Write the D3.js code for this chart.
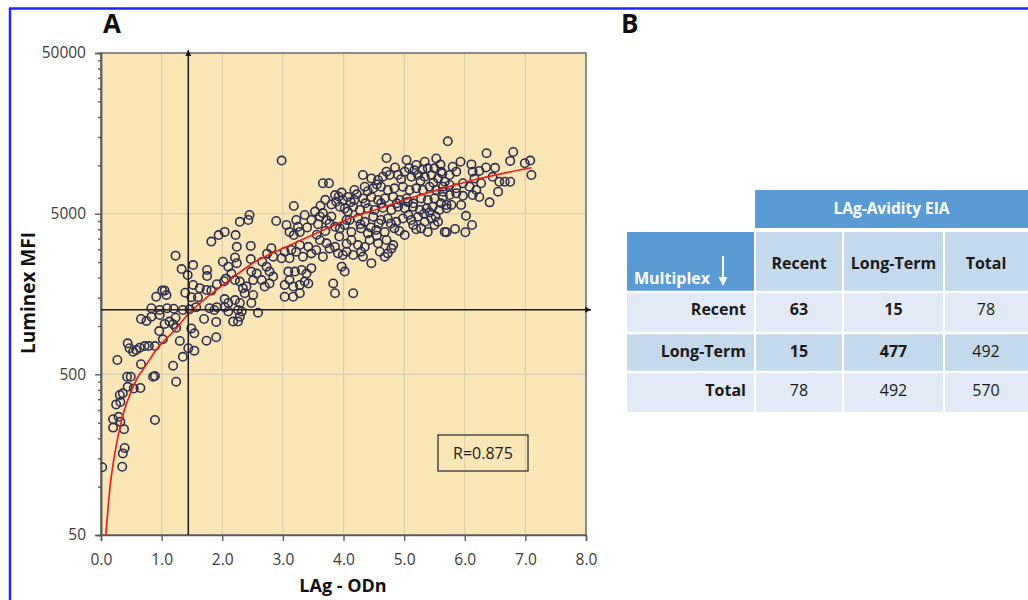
<!DOCTYPE html>
<html><head><meta charset="utf-8">
<script src="https://cdn.jsdelivr.net/npm/d3@7"></script>
<style>body{margin:0;background:#fff}svg{display:block}</style>
</head><body>
<svg id="c" width="1028" height="600"></svg>
<script>
// ---------- data ----------
const xTicks = [0,1,2,3,4,5,6,7,8];
const yTicks = [50,500,5000,50000];
const cutoffOdn = 1.44;
const cutoffMfi = 1260;
const rLabel = "R=0.875";
const xTitle = "LAg - ODn";
const yTitle = "Luminex MFI";
const fitCurve = [[0.08,50],[0.15,100],[0.23,162],[0.34,260],[0.51,400],[0.61,483],[0.69,532],[0.91,709],[1.22,944],[1.44,1187],[1.76,1521],[2.06,1851],[2.51,2466],[3.06,3114],[3.61,3862],[4.11,4678],[4.57,5350],[5.12,6280],[5.76,7400],[6.14,8100],[6.69,9000],[7.10,9650]];
const scatter = [
[0.02,132],[0.35,133],[0.39,174],[0.36,161],[0.20,233],[0.38,228],[0.20,263],[0.29,272],[0.32,253],[0.89,260],
[0.25,325],[0.32,336],[0.36,381],[0.31,372],[0.44,418],[0.49,483],[0.43,483],[0.54,408],[0.65,411],[0.86,483],
[0.89,488],[1.24,450],[1.19,566],[0.66,578],[0.27,614],[0.44,780],[0.47,727],[0.53,692],[0.58,709],[0.64,733],
[0.72,750],[0.79,750],[0.89,750],[1.02,826],[1.30,807],[1.35,643],[1.44,727],[1.54,702],[1.74,810],[1.90,851],
[0.66,1105],[0.96,930],[1.49,965],[1.54,900],[1.70,1105],[1.90,1060],[0.75,1075],[0.83,1140],[0.97,1170],[1.05,1030],
[1.13,1065],[1.23,1125],[1.19,1025],[1.24,975],[0.83,1290],[0.97,1257],[1.09,1290],[1.20,1280],[1.35,1257],[1.46,1270],
[1.57,1310],[1.79,1290],[1.87,1257],[1.91,1310],[2.04,1310],[0.91,1520],[1.05,1660],[1.08,1560],[1.01,1660],[1.39,1610],
[1.52,1800],[1.63,1720],[1.74,1675],[1.82,1660],[1.49,1510],[1.60,1510],[1.91,1820],[2.03,1900],[2.04,1470],[1.23,2740],
[1.33,2260],[1.43,2075],[1.52,2395],[1.75,2230],[1.75,2045],[2.01,2510],[1.82,3350],[1.94,3680],[2.04,3850],[2.06,1970],
[2.98,10700],[3.66,7730],[3.76,7730],[3.86,6530],[3.97,6760],[3.88,5930],[3.99,6080],[3.94,5520],[4.02,5390],[4.07,5150],
[3.18,5580],[2.29,4450],[2.45,4905],[2.43,4565],[2.89,4500],[3.06,4250],[3.11,3850],[3.22,4565],[3.25,4140],[3.18,3680],
[3.28,3850],[3.36,4905],[3.47,4565],[3.53,5150],[3.61,4800],[3.66,5040],[3.72,4565],[3.77,4350],[3.86,4140],[3.94,4050],
[4.02,4250],[4.05,4565],[2.22,3680],[2.24,3110],[2.47,3150],[2.21,2670],[2.24,2460],[2.47,2610],[2.48,2180],[2.66,2510],
[2.74,2820],[2.81,3050],[2.84,2700],[2.73,2340],[2.78,2180],[2.98,2640],[3.11,2640],[3.03,2900],[3.14,2970],[3.22,2900],
[3.28,3190],[3.33,2700],[3.42,3110],[3.47,2830],[3.55,2970],[3.61,3430],[3.66,2700],[3.72,3270],[3.77,3030],[3.86,3110],
[3.91,2830],[3.99,2765],[4.05,2900],[2.10,2340],[2.15,2120],[2.21,1930],[2.29,1890],[2.34,1720],[2.40,1760],[2.51,1930],
[2.57,2120],[2.65,1930],[2.70,1760],[2.78,1840],[2.84,2030],[3.03,1800],[3.11,1930],[3.17,1760],[3.28,1800],[3.36,1890],
[3.42,1840],[3.03,1520],[3.17,1520],[3.28,1600],[3.09,2180],[3.20,2180],[3.31,2230],[3.39,2120],[3.47,2290],[3.83,1840],
[3.86,1600],[2.10,1390],[2.21,1450],[2.26,1257],[2.29,1390],[2.37,1600],[2.48,1390],[2.51,1560],[2.10,1230],[2.18,1065],
[2.26,1065],[2.29,1140],[2.32,1230],[2.59,1210],
[5.72,14100],[4.71,11100],[5.04,10790],[5.20,10040],[5.34,10530],[5.53,11030],[5.39,9580],[5.50,9580],[5.61,9130],
[4.32,8700],[4.46,8290],[4.57,8100],[4.71,9130],[4.76,8700],[4.90,8700],[5.01,9130],[5.12,8480],[5.23,8700],[5.34,8480],[5.45,8700],[5.56,8290],[5.67,7900],
[4.18,7020],[4.35,7360],[4.49,7190],[4.62,7360],[4.73,7020],[4.84,7190],[4.98,7360],[5.09,7020],[5.20,7190],[5.31,7020],[5.42,7360],[5.53,7020],[5.64,6850],
[4.07,6350],[4.18,6080],[4.32,6220],[4.46,6350],[4.57,6080],[4.68,6220],[4.82,6350],[4.93,6080],[5.04,6220],[5.15,5800],[5.28,6220],[5.39,6080],[5.50,6220],[5.61,5800],[5.70,5660],
[4.16,5520],[4.27,5270],[4.40,5400],[4.51,5270],[4.65,5440],[4.79,5270],[4.90,5520],[5.01,5400],[5.15,5520],[5.26,5270],[5.37,5400],[5.47,5520],[5.58,5270],
[4.10,4565],[4.24,4670],[4.35,4450],[4.49,4790],[4.62,4565],[4.73,4670],[4.87,4450],[4.98,4670],[5.12,4565],[5.23,4790],[5.34,4450],[5.45,4670],[5.56,4450],
[4.13,3850],[4.29,4050],[4.40,3770],[4.54,3955],[4.68,3850],[4.84,4050],[5.01,3680],[5.15,4250],[5.28,4050],[5.39,3850],[5.50,4250],[5.67,3850],
[4.13,3430],[4.24,3190],[4.43,3430],[4.57,3270],[4.71,3430],[4.82,3190],
[4.16,2765],[4.29,2900],[4.60,2900],[4.73,2830],[4.68,2700],[4.46,2460],[4.02,2180],[4.16,1600],[3.97,2340],[4.32,2700],[4.79,3030],
[6.36,11900],[6.80,12100],[6.75,10650],[6.99,10300],[7.08,10700],[7.10,8700],[5.93,10530],[6.11,10130],[6.24,9230],[6.35,9700],[6.50,9650],
[5.80,9800],[5.86,9130],[5.63,8900],[5.75,8700],[6.13,9130],[6.16,8290],[6.27,7730],[6.46,8480],[6.57,7900],[6.66,7900],[6.75,7900],
[5.64,7360],[5.75,7540],[5.86,7190],[5.97,7730],[6.08,7360],[6.19,7020],[6.55,6850],[6.41,5880],
[5.64,6350],[5.75,6530],[5.86,6700],[5.97,6460],[6.13,6530],[6.24,6350],[5.78,5660],[5.94,5660],[5.70,5400],
[6.02,4850],[6.12,4250],[5.70,3830],[5.84,4020],[6.01,3830],
[3.62,5600],[3.70,6100],[3.80,5700],[3.92,6400],[4.12,5900],[4.22,6600],[4.40,6900],[4.55,7600],[4.65,8500],[4.85,9700],
[4.95,8200],[5.08,9600],[5.17,9300],[5.27,8000],[5.30,9400],[5.48,7800],[5.60,10100],[4.28,4300],[4.45,4100],[4.58,4350],
[4.78,4350],[4.92,3900],[5.07,4900],[5.20,4000],[5.33,5000],[5.42,5100],[5.52,4800],[5.06,5900],[4.88,5800],[4.62,5800],
[4.36,5800],[3.80,4800],[3.58,4300],[3.40,4100],[3.56,3700],[3.70,3900],[3.93,3600],[4.05,3250],[4.35,3100],[4.55,3650]
];
const tableTitle = "LAg-Avidity EIA";
const cornerLabel = "Multiplex";
const colHeaders = ["Recent","Long-Term","Total"];
const rowHeaders = ["Recent","Long-Term","Total"];
const tableValues = [[63,15,78],[15,477,492],[78,492,570]];
const boldCells = [[true,true,false],[true,true,false],[false,false,false]];

// ---------- layout ----------
const svg = d3.select("#c");
const FONT = "'Open Sans', 'DejaVu Sans', sans-serif";
const L = 101, R = 586, T = 53, B = 535;
const x = d3.scaleLinear().domain([0,8]).range([L,R]);
const y = d3.scaleLog().domain([50,50000]).range([B,T]);

// frame
svg.append("line").attr("x1",9).attr("x2",1028).attr("y1",8.5).attr("y2",8.5).attr("stroke","#2222ff").attr("stroke-width",2.5);
svg.append("line").attr("x1",10).attr("x2",10).attr("y1",8).attr("y2",600).attr("stroke","#2222ff").attr("stroke-width",2.5);

// panel letters
svg.append("text").attr("x",103).attr("y",33).text("A").attr("font-family",FONT).attr("font-weight",700).attr("font-size",26).attr("fill","#111");
svg.append("text").attr("x",621).attr("y",33).text("B").attr("font-family",FONT).attr("font-weight",700).attr("font-size",26).attr("fill","#111");

// defs
const defs = svg.append("defs");
defs.append("marker").attr("id","arr").attr("viewBox","0 0 10 10").attr("refX",10).attr("refY",5)
  .attr("markerWidth",6).attr("markerHeight",7).attr("markerUnits","userSpaceOnUse").attr("orient","auto")
  .append("path").attr("d","M0,0 L10,5 L0,10 Z").attr("fill","#1a1a1a");
defs.append("clipPath").attr("id","clip").append("rect").attr("x",L).attr("y",T).attr("width",R-L).attr("height",B-T);

// plot background
svg.append("rect").attr("x",L).attr("y",T).attr("width",R-L).attr("height",B-T).attr("fill","#fbe6b8");

// gridlines
svg.append("g").selectAll("line").data(xTicks.slice(1,-1)).join("line")
  .attr("x1",d=>x(d)).attr("x2",d=>x(d)).attr("y1",T).attr("y2",B)
  .attr("stroke","#d9cfb4").attr("stroke-width",1.2);
svg.append("g").selectAll("line").data(yTicks.slice(1,-1)).join("line")
  .attr("x1",L).attr("x2",R).attr("y1",d=>y(d)).attr("y2",d=>y(d))
  .attr("stroke","#d9cfb4").attr("stroke-width",1.2);

// border
svg.append("rect").attr("x",L).attr("y",T).attr("width",R-L).attr("height",B-T)
  .attr("fill","none").attr("stroke","#6a6a6a").attr("stroke-width",1.5);

// axes: minor ticks at k/10 of each decade top (k = 2..9)
const minor = [];
yTicks.slice(1).forEach(top => { for (let k = 2; k <= 9; k++) minor.push(top * k / 10); });

const yAxis = d3.axisLeft(y).tickValues(yTicks).tickFormat(d=>String(d)).tickSize(6).tickPadding(9);
const yMinor = d3.axisLeft(y).tickValues(minor).tickFormat("").tickSize(3);
const xAxis = d3.axisBottom(x).tickValues(xTicks).tickFormat(d3.format(".1f")).tickSize(6).tickPadding(13);

function styleAxis(g){
  g.select(".domain").attr("stroke","#5a5a5a").attr("stroke-width",1.5);
  g.selectAll(".tick line").attr("stroke","#5a5a5a").attr("stroke-width",1.4);
  g.selectAll(".tick text").attr("font-family",FONT).attr("font-size",15.5).attr("fill","#3a3a3a");
}
svg.append("g").attr("transform",`translate(${L},0)`).call(yMinor).call(styleAxis);
svg.append("g").attr("transform",`translate(${L},0)`).call(yAxis).call(styleAxis);
svg.append("g").attr("transform",`translate(0,${B})`).call(xAxis).call(styleAxis);

// titles
svg.append("text").attr("x",343).attr("y",592).attr("text-anchor","middle").text(xTitle)
  .attr("font-family",FONT).attr("font-weight",700).attr("font-size",18).attr("fill","#111");
svg.append("text").attr("transform","translate(35,293) rotate(-90)").attr("text-anchor","middle").text(yTitle)
  .attr("font-family",FONT).attr("font-weight",700).attr("font-size",19).attr("fill","#111");

// scatter
svg.append("g").attr("clip-path","url(#clip)").selectAll("circle").data(scatter).join("circle")
  .attr("cx",d=>x(d[0])).attr("cy",d=>y(d[1])).attr("r",4.2)
  .attr("fill","none").attr("stroke","#2d3050").attr("stroke-width",1.6);

// fit curve
svg.append("path").datum(fitCurve).attr("clip-path","url(#clip)")
  .attr("d",d3.line().x(d=>x(d[0])).y(d=>y(d[1])).curve(d3.curveMonotoneX))
  .attr("fill","none").attr("stroke","#e5231b").attr("stroke-width",1.7);

// crosshair with arrows
svg.append("line").attr("x1",x(cutoffOdn)).attr("x2",x(cutoffOdn)).attr("y1",B).attr("y2",T-3)
  .attr("stroke","#1a1a1a").attr("stroke-width",1.5).attr("marker-end","url(#arr)");
svg.append("line").attr("x1",L).attr("x2",R+5).attr("y1",y(cutoffMfi)).attr("y2",y(cutoffMfi))
  .attr("stroke","#1a1a1a").attr("stroke-width",1.5).attr("marker-end","url(#arr)");

// R box
svg.append("rect").attr("x",438).attr("y",435).attr("width",90).attr("height",36)
  .attr("fill","none").attr("stroke","#333").attr("stroke-width",1.3);
svg.append("text").attr("x",483).attr("y",459).attr("text-anchor","middle").text(rLabel)
  .attr("font-family",FONT).attr("font-size",16).attr("fill","#222");

// ---------- table B ----------
const tb = svg.append("g");
const colX = [627,755,843,944,1028];
const rowY = [232,292,333,372,412];
const dark = "#5b9bd5", mid = "#c5d9ed", light = "#e1eaf5";
tb.append("rect").attr("x",755).attr("y",190).attr("width",1028-755).attr("height",38).attr("fill",dark);
tb.append("text").attr("x",(755+1028)/2).attr("y",214).attr("text-anchor","middle").text(tableTitle)
  .attr("font-family",FONT).attr("font-weight",700).attr("font-size",15.5).attr("fill","#fff");
// corner
tb.append("rect").attr("x",colX[0]).attr("y",rowY[0]).attr("width",colX[1]-colX[0]).attr("height",rowY[1]-rowY[0]).attr("fill",dark);
tb.append("text").attr("x",634).attr("y",284).text(cornerLabel)
  .attr("font-family",FONT).attr("font-weight",700).attr("font-size",16).attr("fill","#fff");
tb.append("line").attr("x1",723).attr("x2",723).attr("y1",256).attr("y2",279).attr("stroke","#fff").attr("stroke-width",2);
tb.append("path").attr("d","M718.5,277 L727.5,277 L723,286 Z").attr("fill","#fff");
// col header cells
colHeaders.forEach((h,i)=>{
  tb.append("rect").attr("x",colX[i+1]).attr("y",rowY[0]).attr("width",colX[i+2]-colX[i+1]).attr("height",rowY[1]-rowY[0]).attr("fill",mid);
  tb.append("text").attr("x",(colX[i+1]+colX[i+2])/2).attr("y",269).attr("text-anchor","middle").text(h)
    .attr("font-family",FONT).attr("font-weight",700).attr("font-size",16).attr("fill","#1a1a1a");
});
const rowFill = [light, mid, light];
const rowBase = [315,357,396];
rowHeaders.forEach((h,r)=>{
  tb.append("rect").attr("x",colX[0]).attr("y",rowY[r+1]).attr("width",colX[4]-colX[0]).attr("height",rowY[r+2]-rowY[r+1]).attr("fill",rowFill[r]);
  tb.append("text").attr("x",746).attr("y",rowBase[r]).attr("text-anchor","end").text(h)
    .attr("font-family",FONT).attr("font-weight",700).attr("font-size",16).attr("fill","#1a1a1a");
  tableValues[r].forEach((v,c)=>{
    tb.append("text").attr("x",(colX[c+1]+colX[c+2])/2).attr("y",rowBase[r]).attr("text-anchor","middle").text(v)
      .attr("font-family",FONT).attr("font-weight",boldCells[r][c]?700:400).attr("font-size",16).attr("fill","#1a1a1a");
  });
});
// white separators
[755,843,944].forEach(cx=>{
  tb.append("line").attr("x1",cx).attr("x2",cx).attr("y1",rowY[0]).attr("y2",rowY[4]).attr("stroke","#fff").attr("stroke-width",2);
});
rowY.slice(1,4).forEach(ry=>{
  tb.append("line").attr("x1",colX[0]).attr("x2",colX[4]).attr("y1",ry).attr("y2",ry).attr("stroke","#fff").attr("stroke-width",2.5);
});
</script>
</body></html>
